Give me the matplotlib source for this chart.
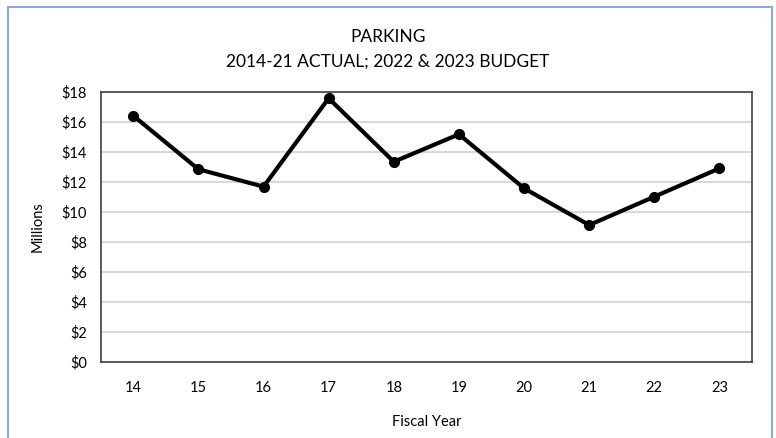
import matplotlib.pyplot as plt
from matplotlib.patches import Rectangle
from matplotlib.ticker import FuncFormatter

plt.rcParams['font.family'] = ['Lato', 'DejaVu Sans']

years = ['14', '15', '16', '17', '18', '19', '20', '21', '22', '23']
parking = [16.4, 12.83, 11.67, 17.56, 13.33, 15.16, 11.56, 9.11, 11.0, 12.89]

fig = plt.figure(figsize=(7.76, 4.38), dpi=100)
ax = fig.add_axes([100.7 / 776, 1 - 361.7 / 438, 651.3 / 776, 270 / 438])

# outer chart border
fig.patches.append(Rectangle((8 / 776, -0.1), 763.6 / 776, 1.1 - 7 / 438,
                             transform=fig.transFigure, fill=False,
                             edgecolor='#8EAADB', linewidth=1.5))

x = range(len(years))
ax.plot(x, parking, color='black', linewidth=3, marker='o', markersize=7, zorder=3)

ax.set_xlim(-0.5, len(years) - 0.5)
ax.set_ylim(0, 18)
ax.set_yticks(range(0, 19, 2))
ax.yaxis.set_major_formatter(FuncFormatter(lambda v, p: f'${v:.0f}'))
ax.set_xticks(list(x))
ax.set_xticklabels(years)
ax.grid(axis='y', color='#D9D9D9', linewidth=1.5)
ax.set_axisbelow(True)
ax.tick_params(length=0, labelsize=10.5, colors='#000000', pad=10)
ax.tick_params(axis='x', pad=14)
for s in ax.spines.values():
    s.set_color('#404040')
    s.set_linewidth(1.2)

ax.set_ylabel('Millions', fontsize=10.5, labelpad=12)
ax.set_xlabel('Fiscal Year', fontsize=10.5, labelpad=14)
fig.text(0.5, 1 - 37 / 438, 'PARKING', ha='center', va='center', fontsize=12.5)
fig.text(0.5, 1 - 62 / 438, '2014-21 ACTUAL; 2022 & 2023 BUDGET', ha='center', va='center', fontsize=12.5)

fig.savefig('out.png', dpi=100)
